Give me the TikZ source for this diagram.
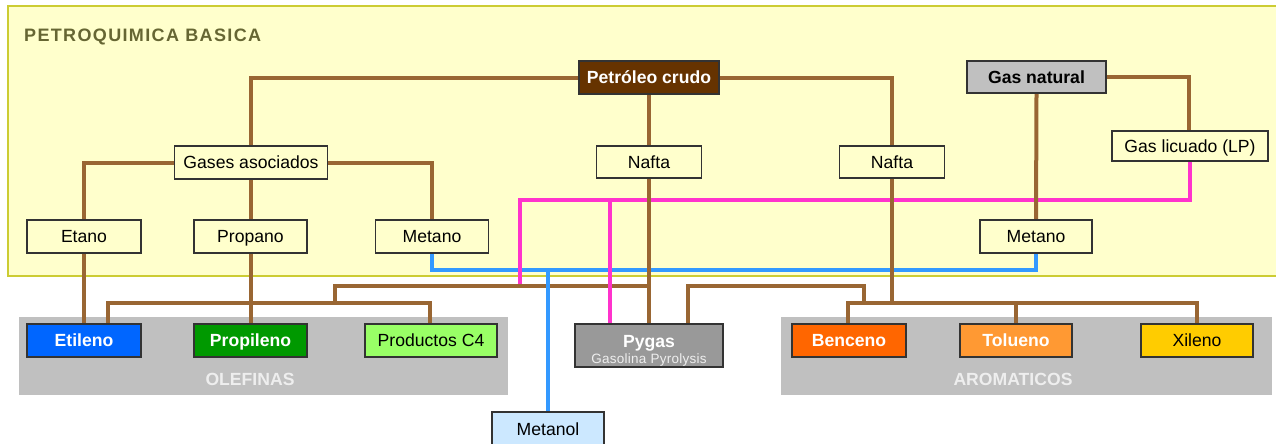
\documentclass[tikz,border=0pt]{standalone}
\usepackage{fontspec}
\setmainfont{Liberation Sans}
\usetikzlibrary{calc}

\definecolor{paleyellow}{HTML}{FFFFCC}
\definecolor{panelrim}{HTML}{CCCC33}
\definecolor{titleolive}{HTML}{666633}
\definecolor{boxline}{HTML}{333333}
\definecolor{linkbrown}{HTML}{996633}
\definecolor{linkpink}{HTML}{FF33CC}
\definecolor{linkblue}{HTML}{3399FF}
\definecolor{groupgrey}{HTML}{C0C0C0}
\definecolor{crudefill}{HTML}{663300}
\definecolor{gasfill}{HTML}{C0C0C0}
\definecolor{ethylfill}{HTML}{0066FF}
\definecolor{propylfill}{HTML}{009900}
\definecolor{cfourfill}{HTML}{99FF66}
\definecolor{pygasfill}{HTML}{999999}
\definecolor{benzfill}{HTML}{FF6600}
\definecolor{tolfill}{HTML}{FF9933}
\definecolor{xylfill}{HTML}{FFCC00}
\definecolor{methanolfill}{HTML}{CCE8FF}
\definecolor{grouptext}{HTML}{EEEEEE}

\pgfdeclarelayer{panels}
\pgfdeclarelayer{wires}
\pgfsetlayers{panels,wires,main}

\begin{document}
\begin{tikzpicture}[x=1pt,y=-1pt,
  box/.style={draw=boxline, line width=1.2pt, fill=paleyellow, inner sep=0pt,
    minimum height=33pt, text height=12.5pt, text depth=0pt,
    font=\fontsize{17.6}{20}\selectfont},
  heavybox/.style={box, font=\fontsize{17.6}{20}\selectfont\bfseries},
  grouplabel/.style={inner sep=0pt, text height=12.5pt, text depth=0pt,
    text=grouptext, font=\fontsize{17.6}{20}\selectfont\bfseries},
  brownlink/.style={draw=linkbrown, line width=4pt},
  pinklink/.style={draw=linkpink, line width=3.6pt},
  bluelink/.style={draw=linkblue, line width=3.6pt}]

\useasboundingbox (0,0) rectangle (1276,444);
\clip (0,0) rectangle (1276,444);

% panels
\begin{pgfonlayer}{panels}
\fill[white] (0,0) rectangle (1276,444);
\draw[fill=paleyellow, draw=panelrim, line width=1.5pt] (8,6) rectangle (1290,276);
\fill[groupgrey] (19,317) rectangle (508,395);
\fill[groupgrey] (781,317) rectangle (1272,395);
\end{pgfonlayer}

\node[anchor=base west, inner sep=0pt, text=titleolive,
  font=\fontsize{18}{20}\selectfont\bfseries\addfontfeature{LetterSpace=7.5}]
  (title) at (24,41.5) {PETROQUIMICA BASICA};
\node[grouplabel] (olefinas) at (250,379.5) {OLEFINAS};
\node[grouplabel] (aromaticos) at (1013,379.5) {AROMATICOS};

% process boxes
\node[heavybox, fill=crudefill, text=white, minimum width=140pt] (crudo) at (649,77.5) {Petróleo crudo};
\node[heavybox, fill=gasfill, minimum width=139pt, minimum height=32pt] (gasnat) at (1036.5,77) {Gas natural};
\node[box, minimum width=153pt] (gases) at (251,162.5) {Gases asociados};
\node[box, minimum width=105pt, minimum height=32pt] (nafta1) at (649,162) {Nafta};
\node[box, minimum width=105pt, minimum height=32pt] (nafta2) at (892,162) {Nafta};
\node[box, minimum width=156pt, minimum height=30pt] (gaslp) at (1190,146) {Gas licuado (LP)};
\node[box, minimum width=114pt] (etano) at (84,236.5) {Etano};
\node[box, minimum width=113pt] (propano) at (250.5,236.5) {Propano};
\node[box, minimum width=113pt] (metano1) at (432,236.5) {Metano};
\node[box, minimum width=112pt] (metano2) at (1036,236.5) {Metano};
\node[heavybox, fill=ethylfill, text=white, minimum width=114pt] (etileno) at (84,340.5) {Etileno};
\node[heavybox, fill=propylfill, text=white, minimum width=113pt] (propileno) at (250.5,340.5) {Propileno};
\node[box, fill=cfourfill, minimum width=132pt] (cfour) at (431,340.5) {Productos C4};
\node[box, fill=pygasfill, minimum width=148pt, minimum height=43pt] (pygas) at (649,345.5) {};
\node[heavybox, fill=benzfill, text=white, minimum width=114pt] (benceno) at (849,340.5) {Benceno};
\node[heavybox, fill=tolfill, text=white, minimum width=112pt] (tolueno) at (1016,340.5) {Tolueno};
\node[box, fill=xylfill, minimum width=112pt] (xileno) at (1197,340.5) {Xileno};
\node[box, fill=methanolfill, minimum width=112pt, minimum height=34pt] (metanol) at (548,429) {Metanol};
\node[inner sep=0pt, text height=12.5pt, text depth=0pt, text=white,
  font=\fontsize{17.6}{20}\selectfont\bfseries] (pygasname) at ([yshift=4.5pt]pygas.center) {Pygas};
\node[inner sep=0pt, text height=9.6pt, text depth=0pt, text=grouptext,
  font=\fontsize{13.5}{15}\selectfont\addfontfeature{LetterSpace=2}] (pygasnote) at ([yshift=-13.5pt]pygas.center) {Gasolina Pyrolysis};

% junction points of the lower connectors
\coordinate (oljoin) at (335,303);
\coordinate (olknee) at (335,286);
\coordinate (arknee) at (864,286);
\coordinate (arjoin) at (864,303);
\coordinate (bluejoin) at (548,270);
\coordinate (pinkknee) at (520,200);
\coordinate (pinkend) at (520,284);

% connectors, lowest first
\begin{pgfonlayer}{wires}
\path[brownlink] (oljoin) -- (olknee) -- (nafta1.south |- olknee);
\path[bluelink] (metano1.south) |- (bluejoin) -| (metano2.south);
\path[bluelink] (bluejoin) -- (metanol.north);
\path[pinklink] (gaslp.south) |- (pinkknee) -- (pinkend);
\path[pinklink] ([xshift=-39pt]pygas.north) |- (pinkknee);
\path[brownlink] (crudo.west) -| (gases.north -| propano.north);
\path[brownlink] (crudo.east) -| (nafta2.north);
\path[brownlink] (crudo.south) -- (nafta1.north);
\path[brownlink] (nafta1.south) -- (nafta1.south |- pygas.north);
\path[brownlink] (gases.west) -| (etano.north);
\path[brownlink] (gases.east) -| (metano1.north);
\path[brownlink] (gases.south -| propano.north) -- (propano.north);
\path[brownlink] (etano.south) -- (etileno.north);
\path[brownlink] (propano.south) -- (propileno.north);
\path[brownlink] ([xshift=24pt]etileno.north) |- (oljoin) -| ([xshift=-1pt]cfour.north);
\path[brownlink] (gasnat.east) -| ([xshift=-1pt]gaslp.north);
\path[brownlink] (gasnat.south) -- (metano2.north);
\path[brownlink] (nafta2.south) -- (nafta2.south |- arjoin);
\path[brownlink] ([xshift=39pt]pygas.north) |- (arknee) -- (arjoin);
\path[brownlink] ([xshift=-1pt]benceno.north) |- (arjoin) -| (xileno.north);
\path[brownlink] (tolueno.north) -- (tolueno.north |- arjoin);
\end{pgfonlayer}

\end{tikzpicture}
\end{document}
